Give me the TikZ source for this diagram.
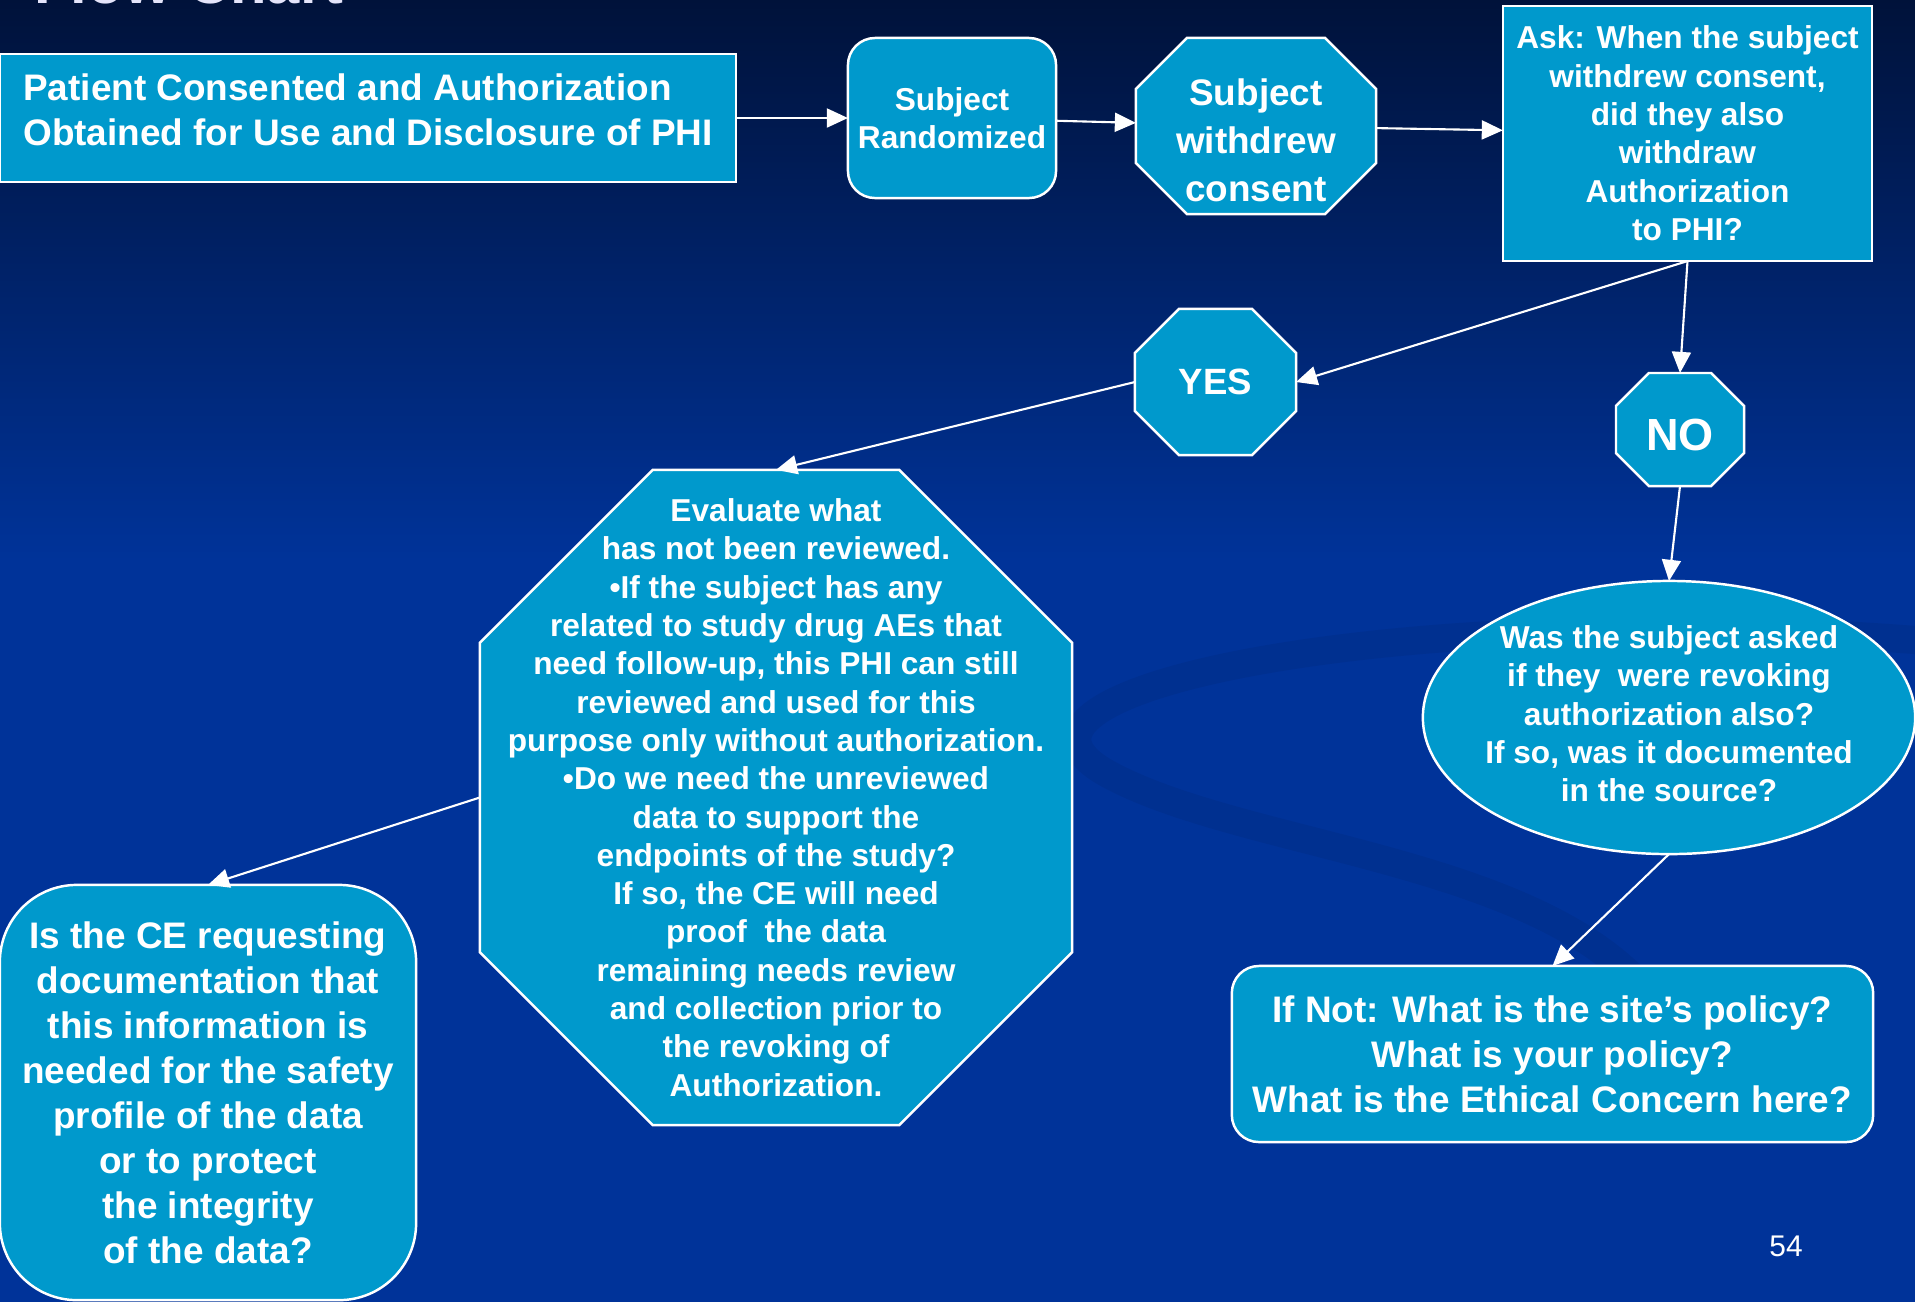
\documentclass[tikz,border=0pt]{standalone}
\usepackage{fontspec}
\setmainfont{Liberation Sans}
\usetikzlibrary{arrows.meta,calc,shapes.geometric}

\definecolor{boxblue}{RGB}{0,153,204}
\definecolor{navytop}{RGB}{0,18,58}
\definecolor{royal}{RGB}{0,51,153}
\definecolor{titlegrey}{RGB}{228,228,250}

\pgfdeclarelayer{back}
\pgfdeclarelayer{shapes}
\pgfsetlayers{back,shapes,main}

% octagon drawn round a named node, #2 = size of the cut corners
\newcommand{\octagon}[2]{%
  \begin{pgfonlayer}{shapes}
  \draw[octfill]
    ($(#1.north west)+(#2,0)$) -- ($(#1.north east)+(-#2,0)$) --
    ($(#1.north east)+(0,#2)$) -- ($(#1.south east)+(0,-#2)$) --
    ($(#1.south east)+(-#2,0)$) -- ($(#1.south west)+(#2,0)$) --
    ($(#1.south west)+(0,-#2)$) -- ($(#1.north west)+(0,#2)$) -- cycle;
  \end{pgfonlayer}}

\begin{document}
\begin{tikzpicture}[
x=0.01cm, y=-0.01cm,
holder/.style={
  draw=none,
  inner sep=2pt,
  outer sep=0pt,
  text=white,
  align=center},
whitebox/.style={
  holder,
  draw=white,
  line width=0.7pt,
  fill=boxblue},
octfill/.style={
  draw=white,
  line width=0.7pt,
  fill=boxblue},
flow/.style={
  draw=white,
  line width=0.6pt,
  -{Triangle[length=6pt,width=5.4pt]}},
small/.style={font=\bfseries\fontsize{9}{10.9}\selectfont},
mid/.style={font=\bfseries\fontsize{10.5}{12.8}\selectfont},
swoosh/.style={draw=navytop, opacity=0.09, line width=8pt, line cap=round}
]
\useasboundingbox (0,0) rectangle (1915,1302);
\clip (0,0) rectangle (1915,1302);

% slide background
\begin{pgfonlayer}{back}
\fill[royal] (0,0) rectangle (1915,1302);
\shade[top color=navytop, bottom color=royal] (0,0) rectangle (1915,560);
\draw[swoosh] (1915,640) .. controls (1400,600) and (950,690) .. (1110,775)
  .. controls (1250,850) and (1560,860) .. (1660,1010);
\end{pgfonlayer}

\node[text=titlegrey, font=\bfseries\fontsize{17}{20}\selectfont, anchor=base west]
  (title) at (22,3) {Flow Chart};

\node[whitebox, mid, align=left, minimum width=7.36cm, minimum height=1.28cm]
  (consent) at (368,118)
  {Patient Consented and Authorization\\Obtained for Use and Disclosure of PHI\rule[-4.6pt]{0pt}{4.6pt}};
\node[whitebox, small, rounded corners=7.7pt, minimum width=2.08cm, minimum height=1.6cm]
  (rand) at (952,118) {Subject\\Randomized};
\node[holder, font=\bfseries\fontsize{10.5}{13.6}\selectfont, minimum width=2.4cm, minimum height=1.76cm]
  (wd) at (1256,126) {\rule{0pt}{15.7pt}Subject\\withdrew\\consent};
\node[whitebox, small, minimum width=3.69cm, minimum height=2.55cm]
  (ask) at (1687.5,133.5)
  {Ask: When the subject\\withdrew consent,\\did they also\\withdraw\\Authorization\\to PHI?};
\node[holder, font=\bfseries\fontsize{10.4}{12}\selectfont, minimum width=1.61cm, minimum height=1.46cm]
  (yes) at (1215.5,382) {YES};
\node[holder, font=\bfseries\fontsize{12.8}{15}\selectfont, minimum width=1.28cm, minimum height=1.13cm]
  (no) at (1680,429.5) {\rule{0pt}{12pt}NO};
\node[holder, small, minimum width=5.92cm, minimum height=6.55cm]
  (big) at (776,797.5)
  {Evaluate what\\has not been reviewed.\\•If the subject has any\\related to study drug AEs that\\need follow-up, this PHI can still\\reviewed and used for this\\purpose only without authorization.\\•Do we need the unreviewed\\data to support the\\endpoints of the study?\\If so, the CE will need\\proof~ the data\\remaining needs review\\and collection prior to\\the revoking of\\Authorization.};
\node[whitebox, ellipse, small, inner sep=0pt, minimum width=4.92cm, minimum height=2.73cm]
  (asked) at (1669,717.5)
  {\makebox[0pt]{\begin{tabular}{@{}c@{}}Was the subject asked\\if they~ were revoking\\authorization also?\\If so, was it documented\\in the source?\end{tabular}}};
\node[whitebox, mid, rounded corners=21.9pt, minimum width=4.16cm, minimum height=4.15cm]
  (need) at (208,1092.5)
  {Is the CE requesting\\documentation that\\this information is\\needed for the safety\\profile of the data\\or to protect\\the integrity\\of the data?};
\node[whitebox, mid, rounded corners=7.7pt, minimum width=6.41cm, minimum height=1.76cm]
  (policy) at (1552.5,1054)
  {If Not: What is the site’s policy?\\What is your policy?\\What is the Ethical Concern here?};
\node[text=white, font=\fontsize{8.5}{10}\selectfont] (page) at (1786,1246) {54};

\foreach \Nodo/\Cut in {wd/51,yes/44,no/33,big/173}
  \octagon{\Nodo}{\Cut};

\draw[flow] (consent) -- (rand);
\draw[flow] (rand) -- (wd);
\draw[flow] (wd) -- (ask);
\draw[flow] (ask.south) -- (yes.east);
\draw[flow] (ask.south) -- (no.north);
\draw[flow] (no.south) -- (asked.north);
\draw[flow] (yes.west) -- (big.north);
\draw[flow] (big.west) -- (need.north);
\draw[flow] (asked.south) -- (policy.north);
\end{tikzpicture}
\end{document}
